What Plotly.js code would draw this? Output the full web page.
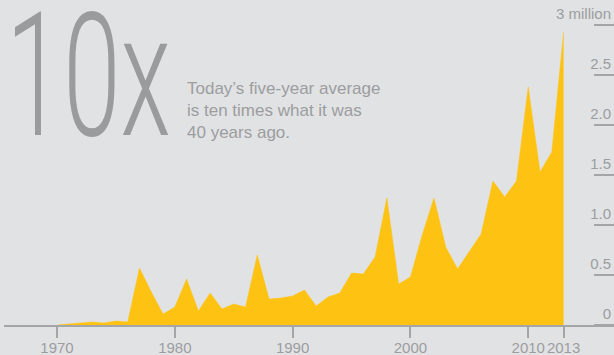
<!DOCTYPE html>
<html>
<head>
<meta charset="utf-8">
<script src="https://cdn.plot.ly/plotly-3.0.1.min.js"></script>
<style>
  html, body { margin: 0; padding: 0; background: #e1e2e4; }
  #chart { width: 614px; height: 355px; }
</style>
</head>
<body>
<div id="chart"></div>
<script>
// Data (values in millions)
const years = [1970,1971,1972,1973,1974,1975,1976,1977,1978,1979,
               1980,1981,1982,1983,1984,1985,1986,1987,1988,1989,
               1990,1991,1992,1993,1994,1995,1996,1997,1998,1999,
               2000,2001,2002,2003,2004,2005,2006,2007,2008,2009,
               2010,2011,2012,2013];
const values = [0.00,0.01,0.02,0.03,0.02,0.04,0.03,0.57,0.33,0.11,
                0.18,0.46,0.14,0.32,0.16,0.21,0.18,0.70,0.26,0.27,
                0.29,0.35,0.19,0.28,0.32,0.52,0.51,0.68,1.27,0.41,
                0.48,0.90,1.27,0.78,0.56,0.73,0.91,1.44,1.28,1.44,
                2.38,1.53,1.73,2.93];
const xTickVals = [1970,1980,1990,2000,2010,2013];
const xTickText = ['1970','1980','1990','2000','2010','2013'];
const yTickVals = [0,0.5,1,1.5,2,2.5,3];
const yTickText = ['0','0.5','1.0','1.5','2.0','2.5','3 million'];
const bigText = '10x';
const noteText = 'Today\u2019s five-year average<br>is ten times what it was<br>40 years ago.';

const bg = '#e1e2e4';
const yellow = '#fec312';
const axisGray = '#a4a5a7';
const textGray = '#9c9d9f';

const trace = {
  x: years,
  y: values,
  type: 'scatter',
  mode: 'lines',
  fill: 'tozeroy',
  fillcolor: yellow,
  line: {color: yellow, width: 0.5, shape: 'linear'},
  hoverinfo: 'skip'
};

const layout = {
  width: 614,
  height: 355,
  margin: {l: 4, r: 0, t: 0, b: 30, pad: 0},
  paper_bgcolor: bg,
  plot_bgcolor: bg,
  showlegend: false,
  font: {family: 'Liberation Sans, Arial, sans-serif', color: textGray},
  xaxis: {
    range: [1965.5, 2017.28],
    showgrid: false,
    zeroline: false,
    showline: true,
    linecolor: axisGray,
    linewidth: 2,
    ticks: 'outside',
    ticklen: 11,
    tickwidth: 2,
    tickcolor: axisGray,
    tickvals: xTickVals,
    ticktext: xTickText,
    tickangle: 0,
    ticklabelstandoff: -3,
    ticklabeloverflow: 'allow',
    tickfont: {size: 15, color: textGray},
    fixedrange: true
  },
  yaxis: {
    range: [0, 3.25],
    side: 'left',
    anchor: 'free',
    position: 1,
    showgrid: false,
    zeroline: false,
    showline: false,
    ticks: 'outside',
    ticklen: 20,
    tickwidth: 2,
    tickcolor: axisGray,
    ticklabelposition: 'outside top',
    ticklabelstandoff: 0,
    ticklabeloverflow: 'allow',
    tickvals: yTickVals,
    ticktext: yTickText,
    tickfont: {size: 15, color: textGray},
    fixedrange: true
  },
  annotations: [
    {
      text: bigText,
      xref: 'paper', yref: 'paper',
      x: 0.0, y: 1.082,
      xanchor: 'left', yanchor: 'top',
      showarrow: false,
      font: {family: 'Roboto, Liberation Sans, sans-serif', size: 172, weight: 300, color: '#9a9b9d'}
    },
    {
      text: noteText,
      xref: 'paper', yref: 'paper',
      x: 0.297, y: 0.661,
      xanchor: 'left', yanchor: 'middle',
      align: 'left',
      showarrow: false,
      font: {family: 'Liberation Sans, Arial, sans-serif', size: 17, color: textGray}
    }
  ]
};

Plotly.newPlot('chart', [trace], layout, {displayModeBar: false, staticPlot: true}).then(function () {
  const t = document.querySelectorAll('#chart .annotation-text')[0];
  if (t) {
    t.style.transformBox = 'fill-box';
    t.style.transformOrigin = 'left center';
    t.style.transform = 'scaleX(0.6)';
  }
});
</script>
</body>
</html>
